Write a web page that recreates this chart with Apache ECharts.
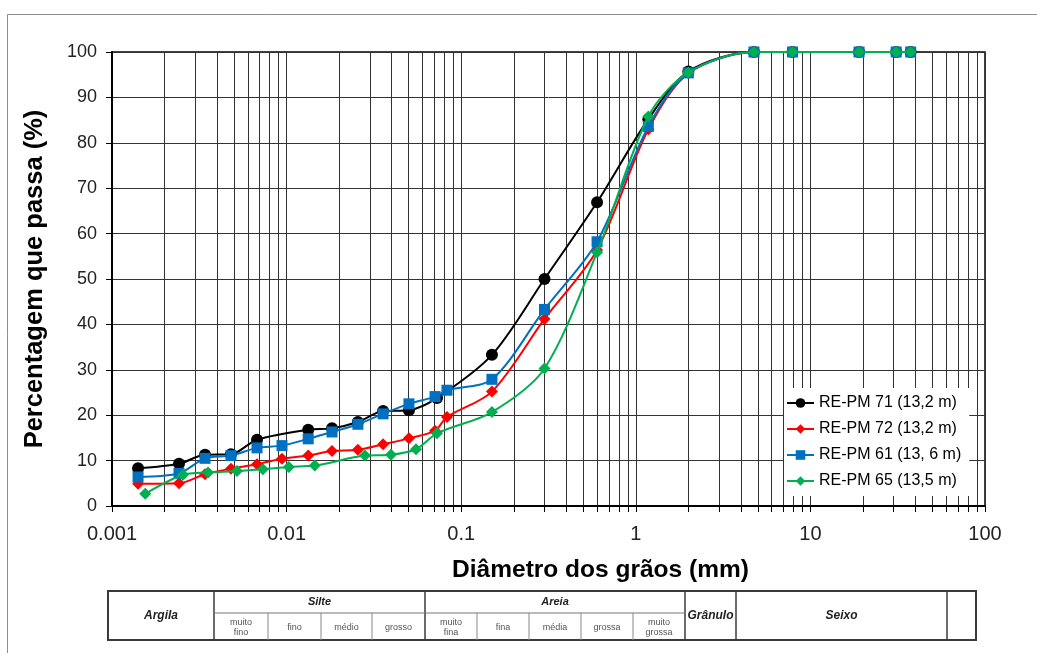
<!DOCTYPE html>
<html>
<head>
<meta charset="utf-8">
<script src="https://cdn.jsdelivr.net/npm/echarts@6/dist/echarts.min.js"></script>
<style>
  html, body { margin: 0; padding: 0; background: #fff; }
  #chart { width: 1037px; height: 653px; }
</style>
</head>
<body>
<div id="chart"></div>
<script>
const FONT = "'Liberation Sans', Arial, Helvetica, sans-serif";

// Curvas granulométricas: diâmetro (mm) e percentagem que passa
const diamPM71 = [0.00141, 0.00242, 0.00341, 0.00480, 0.00677, 0.0133, 0.0182, 0.0256, 0.0357, 0.0502, 0.0727, 0.15, 0.3, 0.6, 1.18, 2.0, 4.75, 7.9, 19, 31, 37.5];
const passPM71 = [8.3, 9.3, 11.3, 11.4, 14.6, 16.8, 17.1, 18.5, 20.9, 21.1, 23.8, 33.3, 50.0, 66.9, 85.2, 95.7, 100, 100, 100, 100, 100];

const diamPM72 = [0.00141, 0.00242, 0.00341, 0.00480, 0.00677, 0.00941, 0.0133, 0.0182, 0.0256, 0.0357, 0.0502, 0.0708, 0.0829, 0.15, 0.3, 0.6, 1.18, 2.0, 4.75, 7.9, 19, 31, 37.5];
const passPM72 = [4.9, 5.0, 7.0, 8.2, 9.2, 10.4, 11.1, 12.1, 12.4, 13.6, 14.9, 16.6, 19.6, 25.2, 41.2, 56.4, 83.0, 95.3, 100, 100, 100, 100, 100];

const diamPM61 = [0.00141, 0.00242, 0.00341, 0.00480, 0.00677, 0.00941, 0.0133, 0.0182, 0.0256, 0.0357, 0.0502, 0.0708, 0.0829, 0.15, 0.3, 0.6, 1.18, 2.0, 4.75, 7.9, 19, 31, 37.5];
const passPM61 = [6.4, 7.2, 10.5, 11.1, 12.8, 13.3, 14.8, 16.3, 18.0, 20.3, 22.5, 24.1, 25.5, 27.9, 43.3, 58.2, 83.6, 95.4, 100, 100, 100, 100, 100];

const diamPM65 = [0.00155, 0.00255, 0.00355, 0.0052, 0.00732, 0.0103, 0.0145, 0.0281, 0.0396, 0.0551, 0.0727, 0.15, 0.3, 0.6, 1.18, 2.0, 4.75, 7.9, 19, 31, 37.5];
const passPM65 = [2.7, 6.9, 7.4, 7.7, 8.1, 8.6, 8.9, 11.1, 11.3, 12.5, 16.0, 20.7, 30.3, 55.9, 85.8, 95.5, 100, 100, 100, 100, 100];

const seriesNames = ['RE-PM 71 (13,2 m)', 'RE-PM 72 (13,2 m)', 'RE-PM 61 (13, 6 m)', 'RE-PM 65 (13,5 m)'];

// Eixos
const xMajorTicks = [0.001, 0.01, 0.1, 1, 10, 100];
const yMin = 0, yMax = 100, yStep = 10;

// Classificação granulométrica (tabela sob o gráfico)
const mainClasses = ['Argila', 'Silte', 'Areia', 'Grânulo', 'Seixo'];
const silteSub = ['muito\nfino', 'fino', 'médio', 'grosso'];
const areiaSub = ['muito\nfina', 'fina', 'média', 'grossa', 'muito\ngrossa'];

// Linhas de grade verticais em 1..9 × 10^k
const xGridTicks = [];
for (let k = 0; k < xMajorTicks.length - 1; k++) {
  for (let m = 1; m <= 9; m++) xGridTicks.push(+(xMajorTicks[k] * m).toPrecision(6));
}
xGridTicks.push(xMajorTicks[xMajorTicks.length - 1]);

function pairs(xs, ys) { return xs.map((x, i) => [x, ys[i]]); }

const styles = [
  { color: '#000000', symbol: 'circle', size: 12 },
  { color: '#FF0000', symbol: 'diamond', size: 12 },
  { color: '#0070C0', symbol: 'rect', size: 11 },
  { color: '#00B050', symbol: 'diamond', size: 12 }
];
const dataSets = [
  pairs(diamPM71, passPM71),
  pairs(diamPM72, passPM72),
  pairs(diamPM61, passPM61),
  pairs(diamPM65, passPM65)
];

const series = dataSets.map((d, i) => ({
  name: seriesNames[i],
  type: 'line',
  data: d,
  smooth: 0.3,
  symbol: styles[i].symbol,
  symbolSize: styles[i].size,
  showAllSymbol: true,
  lineStyle: { width: 2, color: styles[i].color },
  itemStyle: { color: styles[i].color },
  emphasis: { disabled: true },
  z: 3 + i
}));

// Tabela: geometria
const T = { top: 591, mid: 613, bottom: 640, left: 108, right: 976 };
const colX = [108, 214, 425, 685, 736, 947, 976];
const silteX = [214, 268, 321, 372, 425];
const areiaX = [425, 477, 529, 581, 633, 685];

const g = [];
// moldura externa
g.push({ type: 'rect', shape: { x: 7.5, y: 14.5, width: 1100, height: 700 }, style: { fill: 'none', stroke: '#8c8c8c', lineWidth: 1 }, silent: true });
// tabela
g.push({ type: 'rect', shape: { x: T.left, y: T.top, width: T.right - T.left, height: T.bottom - T.top }, style: { fill: '#fff', stroke: '#3a3a3a', lineWidth: 2 } });
colX.slice(1, -1).forEach(x => g.push({ type: 'line', shape: { x1: x, y1: T.top, x2: x, y2: T.bottom }, style: { stroke: '#3a3a3a', lineWidth: 1.5 } }));
g.push({ type: 'line', shape: { x1: colX[1], y1: T.mid, x2: colX[3], y2: T.mid }, style: { stroke: '#777', lineWidth: 1 } });
silteX.slice(1, -1).concat(areiaX.slice(1, -1)).forEach(x => g.push({ type: 'line', shape: { x1: x, y1: T.mid, x2: x, y2: T.bottom }, style: { stroke: '#888', lineWidth: 1 } }));

const mainFont = { fontFamily: FONT, fontStyle: 'italic', fontWeight: 'bold', fill: '#222', align: 'center', verticalAlign: 'middle' };
const spans = [[colX[0], colX[1]], [colX[1], colX[2]], [colX[2], colX[3]], [colX[3], colX[4]], [colX[4], colX[5]]];
mainClasses.forEach((t, i) => {
  const cx = (spans[i][0] + spans[i][1]) / 2;
  const twoRow = (i === 1 || i === 2);
  const cy = twoRow ? (T.top + T.mid) / 2 : (T.top + T.bottom) / 2;
  g.push({ type: 'text', x: cx, y: cy, style: Object.assign({ text: t, fontSize: twoRow ? 11 : 12 }, mainFont) });
});
const subFont = { fontFamily: FONT, fontSize: 9, fill: '#555', align: 'center', verticalAlign: 'middle', lineHeight: 10 };
silteSub.forEach((t, i) => g.push({ type: 'text', x: (silteX[i] + silteX[i + 1]) / 2, y: (T.mid + T.bottom) / 2 + 1, style: Object.assign({ text: t }, subFont) }));
areiaSub.forEach((t, i) => g.push({ type: 'text', x: (areiaX[i] + areiaX[i + 1]) / 2, y: (T.mid + T.bottom) / 2 + 1, style: Object.assign({ text: t }, subFont) }));

const chart = echarts.init(document.getElementById('chart'), null, { renderer: 'canvas' });
chart.setOption({
  backgroundColor: '#fff',
  animation: false,
  grid: { left: 112, right: 52, top: 52, bottom: 147, show: true, borderColor: '#000', borderWidth: 1.5 },
  legend: {
    orient: 'vertical',
    left: 784, top: 388,
    width: 182,
    backgroundColor: '#fff',
    padding: [6, 8, 6, 2],
    itemGap: 8,
    itemWidth: 27,
    itemHeight: 12,
    textStyle: { fontFamily: FONT, fontSize: 16, color: '#000', lineHeight: 18 },
    data: seriesNames,
    selectedMode: false
  },
  xAxis: {
    type: 'log',
    logBase: 10,
    min: 0.001,
    max: 100,
    name: 'Diâmetro dos grãos (mm)',
    nameLocation: 'middle',
    nameGap: 52,
    nameTextStyle: { fontFamily: FONT, fontSize: 24.5, fontWeight: 'bold', color: '#000', padding: [0, 0, 0, 104] },
    axisLine: { show: true, onZero: false, lineStyle: { color: '#000', width: 2 } },
    axisTick: { show: true, inside: false, length: 6, customValues: xGridTicks, lineStyle: { color: '#000', width: 1 } },
    axisLabel: {
      customValues: xMajorTicks,
      fontFamily: FONT, fontSize: 20, color: '#222', margin: 18,
      formatter: v => String(+(+v).toPrecision(6))
    },
    splitLine: { show: true, lineStyle: { color: '#333', width: 1 } }
  },
  yAxis: {
    type: 'value',
    min: yMin, max: yMax, interval: yStep,
    name: 'Percentagem que passa (%)',
    nameLocation: 'middle',
    nameGap: 64,
    nameTextStyle: { fontFamily: FONT, fontSize: 25.5, fontWeight: 'bold', color: '#000' },
    axisLine: { show: true, lineStyle: { color: '#000', width: 2 } },
    axisTick: { show: true, length: 6, lineStyle: { color: '#000', width: 1 } },
    axisLabel: { fontFamily: FONT, fontSize: 18, color: '#222', margin: 15 },
    splitLine: { show: true, lineStyle: { color: '#333', width: 1 } }
  },
  series: series,
  graphic: { elements: g }
});
</script>
</body>
</html>
